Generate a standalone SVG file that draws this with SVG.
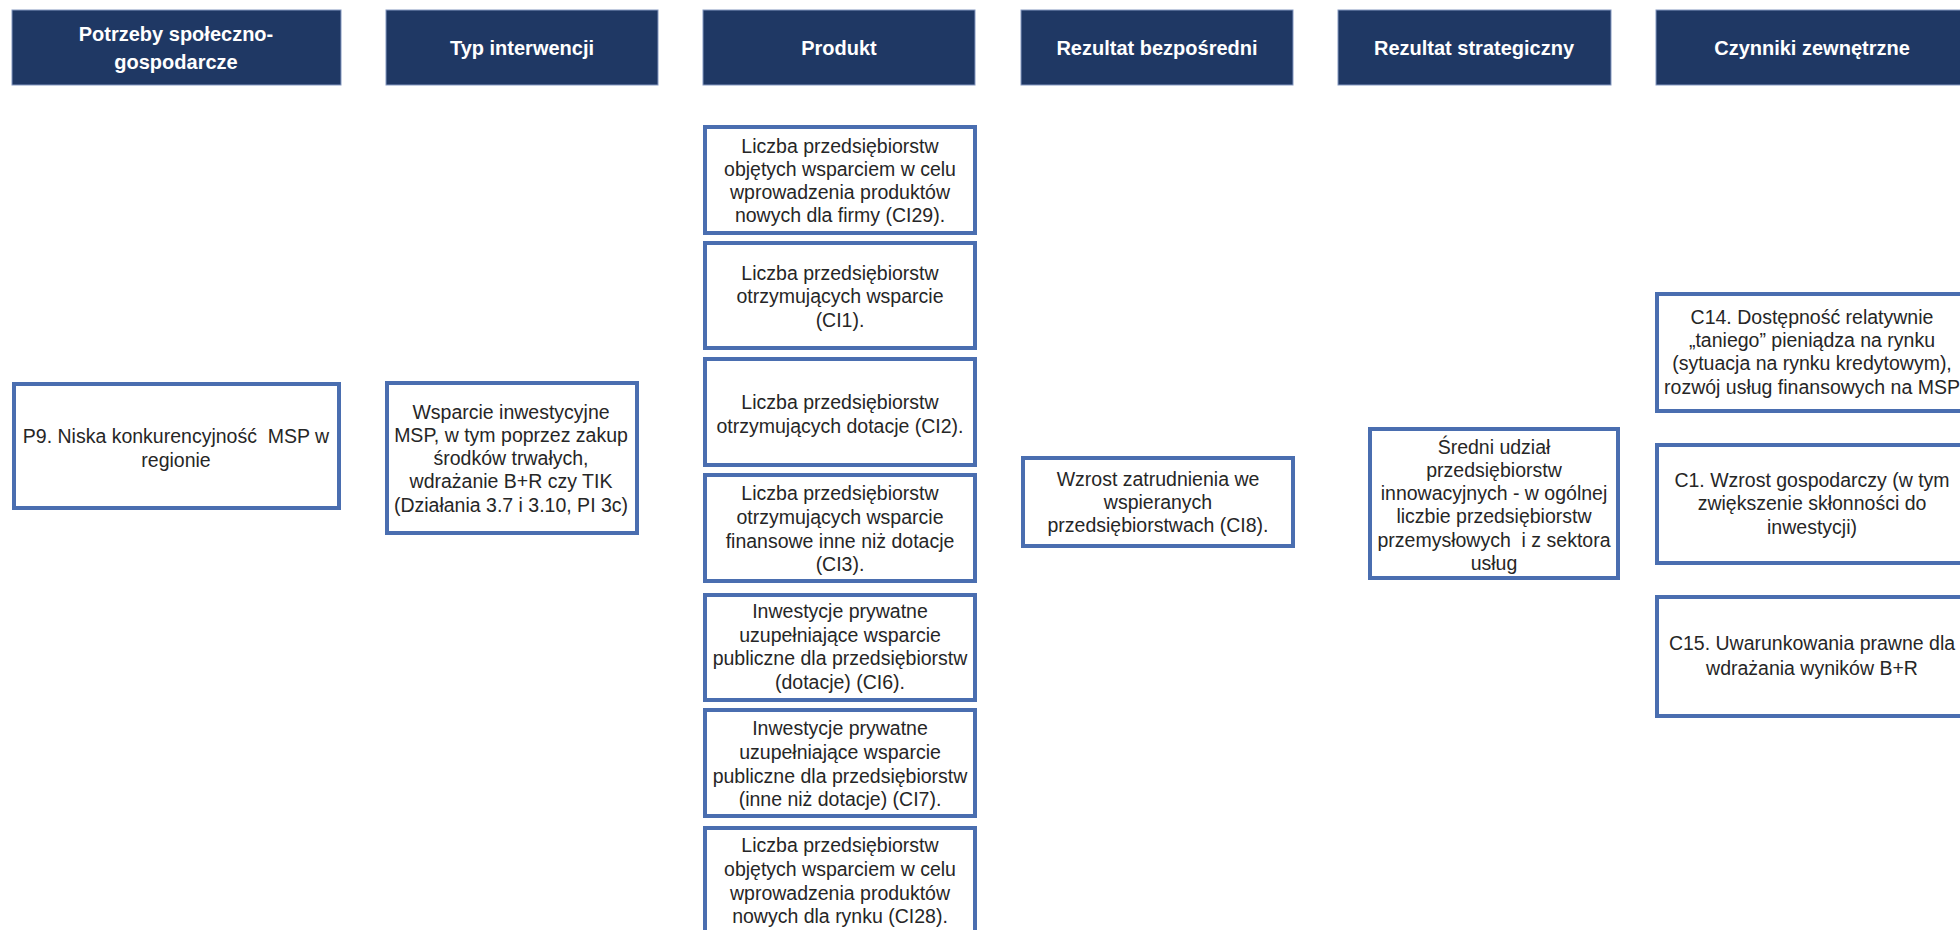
<svg xmlns="http://www.w3.org/2000/svg" width="1960" height="930" viewBox="0 0 1960 930">
<style>
.hdr rect{fill:#1f3864;stroke:#8497c0;stroke-width:1}
.hdr text{fill:#ffffff;font-family:"Liberation Sans",Arial,sans-serif;font-weight:bold;font-size:20px;text-anchor:middle}
.box rect{fill:#ffffff;stroke:#4a6eb0;stroke-width:4}
.box text{fill:#262626;font-family:"Liberation Sans",Arial,sans-serif;font-size:19.5px;text-anchor:middle}
</style>
<rect x="0" y="0" width="1960" height="930" fill="#ffffff"/>
<g id="headers">
<g id="h1" class="hdr"><rect x="12" y="10" width="329" height="75"/><text x="176" y="41">Potrzeby społeczno-</text><text x="176" y="69">gospodarcze</text></g>
<g id="h2" class="hdr"><rect x="386" y="10" width="272" height="75"/><text x="522" y="55">Typ interwencji</text></g>
<g id="h3" class="hdr"><rect x="703" y="10" width="272" height="75"/><text x="839" y="55">Produkt</text></g>
<g id="h4" class="hdr"><rect x="1021" y="10" width="272" height="75"/><text x="1157" y="55">Rezultat bezpośredni</text></g>
<g id="h5" class="hdr"><rect x="1338" y="10" width="273" height="75"/><text x="1474" y="55">Rezultat strategiczny</text></g>
<g id="h6" class="hdr"><rect x="1656" y="10" width="320" height="75"/><text x="1812" y="55">Czynniki zewnętrzne</text></g>
</g>
<g id="connectors"></g>
<g id="p9" class="box"><rect x="14" y="384" width="325" height="124"/><text x="176" y="443" xml:space="preserve">P9. Niska konkurencyjność  MSP w</text><text x="176" y="467">regionie</text></g>
<g id="typ" class="box"><rect x="387" y="383" width="250" height="150"/><text x="511" y="419">Wsparcie inwestycyjne</text><text x="511" y="442">MSP, w tym poprzez zakup</text><text x="511" y="465">środków trwałych,</text><text x="511" y="488">wdrażanie B+R czy TIK</text><text x="511" y="512">(Działania 3.7 i 3.10, PI 3c)</text></g>
<g id="prod1" class="box"><rect x="705" y="127" width="270" height="106"/><text x="840" y="153">Liczba przedsiębiorstw</text><text x="840" y="176">objętych wsparciem w celu</text><text x="840" y="199">wprowadzenia produktów</text><text x="840" y="222">nowych dla firmy (CI29).</text></g>
<g id="prod2" class="box"><rect x="705" y="243" width="270" height="105"/><text x="840" y="280">Liczba przedsiębiorstw</text><text x="840" y="303">otrzymujących wsparcie</text><text x="840" y="327">(CI1).</text></g>
<g id="prod3" class="box"><rect x="705" y="359" width="270" height="106"/><text x="840" y="409">Liczba przedsiębiorstw</text><text x="840" y="433">otrzymujących dotacje (CI2).</text></g>
<g id="prod4" class="box"><rect x="705" y="475" width="270" height="106"/><text x="840" y="500">Liczba przedsiębiorstw</text><text x="840" y="524">otrzymujących wsparcie</text><text x="840" y="548">finansowe inne niż dotacje</text><text x="840" y="571">(CI3).</text></g>
<g id="prod5" class="box"><rect x="705" y="595" width="270" height="105"/><text x="840" y="618">Inwestycje prywatne</text><text x="840" y="642">uzupełniające wsparcie</text><text x="840" y="665">publiczne dla przedsiębiorstw</text><text x="840" y="689">(dotacje) (CI6).</text></g>
<g id="prod6" class="box"><rect x="705" y="710" width="270" height="106"/><text x="840" y="735">Inwestycje prywatne</text><text x="840" y="759">uzupełniające wsparcie</text><text x="840" y="783">publiczne dla przedsiębiorstw</text><text x="840" y="806">(inne niż dotacje) (CI7).</text></g>
<g id="prod7" class="box"><rect x="705" y="828" width="270" height="112"/><text x="840" y="852">Liczba przedsiębiorstw</text><text x="840" y="876">objętych wsparciem w celu</text><text x="840" y="900">wprowadzenia produktów</text><text x="840" y="923">nowych dla rynku (CI28).</text></g>
<g id="rez1" class="box"><rect x="1023" y="458" width="270" height="88"/><text x="1158" y="486">Wzrost zatrudnienia we</text><text x="1158" y="509">wspieranych</text><text x="1158" y="532">przedsiębiorstwach (CI8).</text></g>
<g id="rez2" class="box"><rect x="1370" y="429" width="248" height="149"/><text x="1494" y="454">Średni udział</text><text x="1494" y="477">przedsiębiorstw</text><text x="1494" y="500">innowacyjnych - w ogólnej</text><text x="1494" y="523">liczbie przedsiębiorstw</text><text x="1494" y="547" xml:space="preserve">przemysłowych  i z sektora</text><text x="1494" y="570">usług</text></g>
<g id="c14" class="box"><rect x="1657" y="294" width="315" height="117"/><text x="1812" y="324">C14. Dostępność relatywnie</text><text x="1812" y="347">„taniego” pieniądza na rynku</text><text x="1812" y="370">(sytuacja na rynku kredytowym),</text><text x="1812" y="394">rozwój usług finansowych na MSP</text></g>
<g id="c1" class="box"><rect x="1657" y="445" width="315" height="118"/><text x="1812" y="487">C1. Wzrost gospodarczy (w tym</text><text x="1812" y="510">zwiększenie skłonności do</text><text x="1812" y="534">inwestycji)</text></g>
<g id="c15" class="box"><rect x="1657" y="597" width="315" height="119"/><text x="1812" y="650">C15. Uwarunkowania prawne dla</text><text x="1812" y="675">wdrażania wyników B+R</text></g>
</svg>
